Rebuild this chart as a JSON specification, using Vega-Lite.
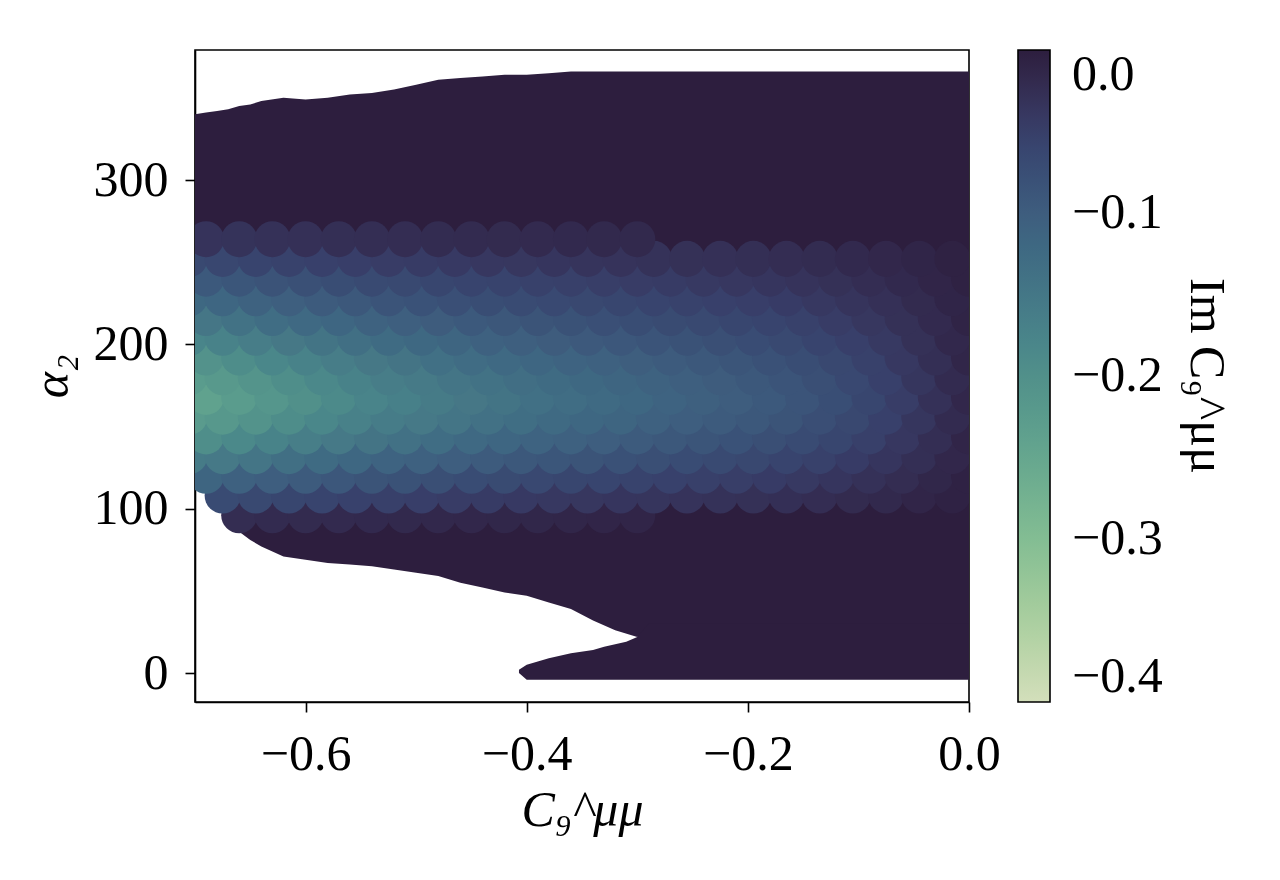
{
  "$schema": "https://vega.github.io/schema/vega-lite/v6.json",
  "autosize": "none",
  "width": 774,
  "height": 652,
  "padding": {"left": 195, "top": 50, "right": 311, "bottom": 178},
  "background": "white",
  "config": {
    "view": {"stroke": "black", "strokeWidth": 1.6},
    "axis": {
      "labelFont": "Liberation Serif", "labelFontSize": 50, "labelColor": "black",
      "titleFont": "Liberation Serif", "titleFontSize": 50, "titleFontWeight": "normal",
      "titleColor": "black", "titleFontStyle": "italic",
      "tickColor": "black", "tickSize": 10, "tickWidth": 1.6,
      "domainColor": "black", "domainWidth": 1.6, "grid": false, "labelPadding": 17
    }
  },
  "datasets": {
    "env": [
      {"part": "main", "x": -0.7, "lo": 124, "hi": 340},
      {"part": "main", "x": -0.69, "lo": 112, "hi": 341},
      {"part": "main", "x": -0.68, "lo": 101, "hi": 342},
      {"part": "main", "x": -0.67, "lo": 93, "hi": 343},
      {"part": "main", "x": -0.66, "lo": 86, "hi": 345},
      {"part": "main", "x": -0.65, "lo": 81, "hi": 346},
      {"part": "main", "x": -0.64, "lo": 77, "hi": 348},
      {"part": "main", "x": -0.62, "lo": 71, "hi": 350},
      {"part": "main", "x": -0.6, "lo": 69, "hi": 349},
      {"part": "main", "x": -0.58, "lo": 67, "hi": 350},
      {"part": "main", "x": -0.56, "lo": 66, "hi": 352},
      {"part": "main", "x": -0.54, "lo": 65, "hi": 353},
      {"part": "main", "x": -0.52, "lo": 63, "hi": 355},
      {"part": "main", "x": -0.5, "lo": 61, "hi": 358},
      {"part": "main", "x": -0.48, "lo": 59, "hi": 361},
      {"part": "main", "x": -0.46, "lo": 55, "hi": 362},
      {"part": "main", "x": -0.44, "lo": 52, "hi": 363},
      {"part": "main", "x": -0.42, "lo": 49, "hi": 364},
      {"part": "main", "x": -0.4, "lo": 47, "hi": 364},
      {"part": "main", "x": -0.38, "lo": 43, "hi": 365},
      {"part": "main", "x": -0.36, "lo": 39, "hi": 366},
      {"part": "main", "x": -0.34, "lo": 32, "hi": 366},
      {"part": "main", "x": -0.32, "lo": 26, "hi": 366},
      {"part": "main", "x": -0.3, "lo": 22, "hi": 366},
      {"part": "main", "x": -0.29, "lo": 25, "hi": 366},
      {"part": "main", "x": 0, "lo": 25, "hi": 366},
      {"part": "lobe", "x": -0.407, "lo": 0, "hi": 2},
      {"part": "lobe", "x": -0.4, "lo": -4, "hi": 5},
      {"part": "lobe", "x": -0.39, "lo": -4, "hi": 7},
      {"part": "lobe", "x": -0.38, "lo": -4, "hi": 9},
      {"part": "lobe", "x": -0.36, "lo": -4, "hi": 12},
      {"part": "lobe", "x": -0.34, "lo": -4, "hi": 14},
      {"part": "lobe", "x": -0.33, "lo": -4, "hi": 16},
      {"part": "lobe", "x": -0.31, "lo": -4, "hi": 19},
      {"part": "lobe", "x": -0.3, "lo": -4, "hi": 22},
      {"part": "lobe", "x": -0.29, "lo": -4, "hi": 30},
      {"part": "lobe", "x": 0, "lo": -4, "hi": 30}
    ],
    "pts": [
      {"x":-0.66,"y":96,"c":-0.023},{"x":-0.63,"y":96,"c":-0.021},{"x":-0.6,"y":96,"c":-0.02},{"x":-0.57,"y":96,"c":-0.019},{"x":-0.54,"y":96,"c":-0.018},{"x":-0.51,"y":96,"c":-0.017},{"x":-0.48,"y":96,"c":-0.016},{"x":-0.45,"y":96,"c":-0.015},{"x":-0.42,"y":96,"c":-0.014},{"x":-0.39,"y":96,"c":-0.014},{"x":-0.36,"y":96,"c":-0.013},{"x":-0.33,"y":96,"c":-0.012},{"x":-0.3,"y":96,"c":-0.012},
      {"x":-0.675,"y":108,"c":-0.07},{"x":-0.645,"y":108,"c":-0.066},{"x":-0.615,"y":108,"c":-0.062},{"x":-0.585,"y":108,"c":-0.058},{"x":-0.555,"y":108,"c":-0.054},{"x":-0.525,"y":108,"c":-0.051},{"x":-0.495,"y":108,"c":-0.049},{"x":-0.465,"y":108,"c":-0.046},{"x":-0.435,"y":108,"c":-0.044},{"x":-0.405,"y":108,"c":-0.042},{"x":-0.375,"y":108,"c":-0.04},{"x":-0.345,"y":108,"c":-0.038},{"x":-0.315,"y":108,"c":-0.036},{"x":-0.285,"y":108,"c":-0.035},{"x":-0.255,"y":108,"c":-0.033},{"x":-0.225,"y":108,"c":-0.031},{"x":-0.195,"y":108,"c":-0.029},{"x":-0.165,"y":108,"c":-0.027},{"x":-0.135,"y":108,"c":-0.024},{"x":-0.105,"y":108,"c":-0.02},{"x":-0.075,"y":108,"c":-0.017},{"x":-0.045,"y":108,"c":-0.012},{"x":-0.015,"y":108,"c":-0.007},
      {"x":-0.69,"y":120,"c":-0.114},{"x":-0.66,"y":120,"c":-0.108},{"x":-0.63,"y":120,"c":-0.102},{"x":-0.6,"y":120,"c":-0.096},{"x":-0.57,"y":120,"c":-0.09},{"x":-0.54,"y":120,"c":-0.084},{"x":-0.51,"y":120,"c":-0.081},{"x":-0.48,"y":120,"c":-0.076},{"x":-0.45,"y":120,"c":-0.072},{"x":-0.42,"y":120,"c":-0.069},{"x":-0.39,"y":120,"c":-0.065},{"x":-0.36,"y":120,"c":-0.062},{"x":-0.33,"y":120,"c":-0.06},{"x":-0.3,"y":120,"c":-0.057},{"x":-0.27,"y":120,"c":-0.054},{"x":-0.24,"y":120,"c":-0.051},{"x":-0.21,"y":120,"c":-0.048},{"x":-0.18,"y":120,"c":-0.045},{"x":-0.15,"y":120,"c":-0.041},{"x":-0.12,"y":120,"c":-0.036},{"x":-0.09,"y":120,"c":-0.03},{"x":-0.06,"y":120,"c":-0.023},{"x":-0.03,"y":120,"c":-0.014},{"x":0,"y":120,"c":-0.007},
      {"x":-0.705,"y":132,"c":-0.158},{"x":-0.675,"y":132,"c":-0.153},{"x":-0.645,"y":132,"c":-0.145},{"x":-0.615,"y":132,"c":-0.135},{"x":-0.585,"y":132,"c":-0.127},{"x":-0.555,"y":132,"c":-0.119},{"x":-0.525,"y":132,"c":-0.112},{"x":-0.495,"y":132,"c":-0.108},{"x":-0.465,"y":132,"c":-0.102},{"x":-0.435,"y":132,"c":-0.096},{"x":-0.405,"y":132,"c":-0.092},{"x":-0.375,"y":132,"c":-0.088},{"x":-0.345,"y":132,"c":-0.084},{"x":-0.315,"y":132,"c":-0.08},{"x":-0.285,"y":132,"c":-0.076},{"x":-0.255,"y":132,"c":-0.072},{"x":-0.225,"y":132,"c":-0.068},{"x":-0.195,"y":132,"c":-0.064},{"x":-0.165,"y":132,"c":-0.059},{"x":-0.135,"y":132,"c":-0.053},{"x":-0.105,"y":132,"c":-0.045},{"x":-0.075,"y":132,"c":-0.036},{"x":-0.045,"y":132,"c":-0.026},{"x":-0.015,"y":132,"c":-0.015},
      {"x":-0.69,"y":144,"c":-0.195},{"x":-0.66,"y":144,"c":-0.185},{"x":-0.63,"y":144,"c":-0.174},{"x":-0.6,"y":144,"c":-0.163},{"x":-0.57,"y":144,"c":-0.153},{"x":-0.54,"y":144,"c":-0.144},{"x":-0.51,"y":144,"c":-0.138},{"x":-0.48,"y":144,"c":-0.13},{"x":-0.45,"y":144,"c":-0.123},{"x":-0.42,"y":144,"c":-0.117},{"x":-0.39,"y":144,"c":-0.112},{"x":-0.36,"y":144,"c":-0.107},{"x":-0.33,"y":144,"c":-0.102},{"x":-0.3,"y":144,"c":-0.097},{"x":-0.27,"y":144,"c":-0.092},{"x":-0.24,"y":144,"c":-0.087},{"x":-0.21,"y":144,"c":-0.082},{"x":-0.18,"y":144,"c":-0.076},{"x":-0.15,"y":144,"c":-0.07},{"x":-0.12,"y":144,"c":-0.061},{"x":-0.09,"y":144,"c":-0.051},{"x":-0.06,"y":144,"c":-0.039},{"x":-0.03,"y":144,"c":-0.025},{"x":0,"y":144,"c":-0.012},
      {"x":-0.705,"y":156,"c":-0.224},{"x":-0.675,"y":156,"c":-0.218},{"x":-0.645,"y":156,"c":-0.206},{"x":-0.615,"y":156,"c":-0.193},{"x":-0.585,"y":156,"c":-0.181},{"x":-0.555,"y":156,"c":-0.17},{"x":-0.525,"y":156,"c":-0.16},{"x":-0.495,"y":156,"c":-0.153},{"x":-0.465,"y":156,"c":-0.145},{"x":-0.435,"y":156,"c":-0.137},{"x":-0.405,"y":156,"c":-0.132},{"x":-0.375,"y":156,"c":-0.125},{"x":-0.345,"y":156,"c":-0.119},{"x":-0.315,"y":156,"c":-0.114},{"x":-0.285,"y":156,"c":-0.108},{"x":-0.255,"y":156,"c":-0.102},{"x":-0.225,"y":156,"c":-0.097},{"x":-0.195,"y":156,"c":-0.091},{"x":-0.165,"y":156,"c":-0.084},{"x":-0.135,"y":156,"c":-0.075},{"x":-0.105,"y":156,"c":-0.064},{"x":-0.075,"y":156,"c":-0.052},{"x":-0.045,"y":156,"c":-0.037},{"x":-0.015,"y":156,"c":-0.021},
      {"x":-0.69,"y":168,"c":-0.238},{"x":-0.66,"y":168,"c":-0.226},{"x":-0.63,"y":168,"c":-0.212},{"x":-0.6,"y":168,"c":-0.199},{"x":-0.57,"y":168,"c":-0.187},{"x":-0.54,"y":168,"c":-0.175},{"x":-0.51,"y":168,"c":-0.168},{"x":-0.48,"y":168,"c":-0.158},{"x":-0.45,"y":168,"c":-0.15},{"x":-0.42,"y":168,"c":-0.143},{"x":-0.39,"y":168,"c":-0.136},{"x":-0.36,"y":168,"c":-0.13},{"x":-0.33,"y":168,"c":-0.124},{"x":-0.3,"y":168,"c":-0.118},{"x":-0.27,"y":168,"c":-0.112},{"x":-0.24,"y":168,"c":-0.106},{"x":-0.21,"y":168,"c":-0.1},{"x":-0.18,"y":168,"c":-0.093},{"x":-0.15,"y":168,"c":-0.085},{"x":-0.12,"y":168,"c":-0.074},{"x":-0.09,"y":168,"c":-0.062},{"x":-0.06,"y":168,"c":-0.047},{"x":-0.03,"y":168,"c":-0.03},{"x":0,"y":168,"c":-0.015},
      {"x":-0.705,"y":180,"c":-0.226},{"x":-0.675,"y":180,"c":-0.22},{"x":-0.645,"y":180,"c":-0.208},{"x":-0.615,"y":180,"c":-0.195},{"x":-0.585,"y":180,"c":-0.183},{"x":-0.555,"y":180,"c":-0.172},{"x":-0.525,"y":180,"c":-0.162},{"x":-0.495,"y":180,"c":-0.155},{"x":-0.465,"y":180,"c":-0.146},{"x":-0.435,"y":180,"c":-0.139},{"x":-0.405,"y":180,"c":-0.133},{"x":-0.375,"y":180,"c":-0.126},{"x":-0.345,"y":180,"c":-0.121},{"x":-0.315,"y":180,"c":-0.115},{"x":-0.285,"y":180,"c":-0.109},{"x":-0.255,"y":180,"c":-0.104},{"x":-0.225,"y":180,"c":-0.098},{"x":-0.195,"y":180,"c":-0.092},{"x":-0.165,"y":180,"c":-0.085},{"x":-0.135,"y":180,"c":-0.076},{"x":-0.105,"y":180,"c":-0.065},{"x":-0.075,"y":180,"c":-0.052},{"x":-0.045,"y":180,"c":-0.037},{"x":-0.015,"y":180,"c":-0.021},
      {"x":-0.69,"y":192,"c":-0.205},{"x":-0.66,"y":192,"c":-0.194},{"x":-0.63,"y":192,"c":-0.182},{"x":-0.6,"y":192,"c":-0.171},{"x":-0.57,"y":192,"c":-0.161},{"x":-0.54,"y":192,"c":-0.151},{"x":-0.51,"y":192,"c":-0.144},{"x":-0.48,"y":192,"c":-0.136},{"x":-0.45,"y":192,"c":-0.129},{"x":-0.42,"y":192,"c":-0.123},{"x":-0.39,"y":192,"c":-0.117},{"x":-0.36,"y":192,"c":-0.112},{"x":-0.33,"y":192,"c":-0.107},{"x":-0.3,"y":192,"c":-0.101},{"x":-0.27,"y":192,"c":-0.096},{"x":-0.24,"y":192,"c":-0.091},{"x":-0.21,"y":192,"c":-0.086},{"x":-0.18,"y":192,"c":-0.08},{"x":-0.15,"y":192,"c":-0.073},{"x":-0.12,"y":192,"c":-0.064},{"x":-0.09,"y":192,"c":-0.053},{"x":-0.06,"y":192,"c":-0.04},{"x":-0.03,"y":192,"c":-0.026},{"x":0,"y":192,"c":-0.013},
      {"x":-0.705,"y":204,"c":-0.177},{"x":-0.675,"y":204,"c":-0.172},{"x":-0.645,"y":204,"c":-0.162},{"x":-0.615,"y":204,"c":-0.152},{"x":-0.585,"y":204,"c":-0.143},{"x":-0.555,"y":204,"c":-0.134},{"x":-0.525,"y":204,"c":-0.126},{"x":-0.495,"y":204,"c":-0.121},{"x":-0.465,"y":204,"c":-0.114},{"x":-0.435,"y":204,"c":-0.108},{"x":-0.405,"y":204,"c":-0.104},{"x":-0.375,"y":204,"c":-0.098},{"x":-0.345,"y":204,"c":-0.094},{"x":-0.315,"y":204,"c":-0.09},{"x":-0.285,"y":204,"c":-0.085},{"x":-0.255,"y":204,"c":-0.081},{"x":-0.225,"y":204,"c":-0.076},{"x":-0.195,"y":204,"c":-0.072},{"x":-0.165,"y":204,"c":-0.066},{"x":-0.135,"y":204,"c":-0.059},{"x":-0.105,"y":204,"c":-0.05},{"x":-0.075,"y":204,"c":-0.041},{"x":-0.045,"y":204,"c":-0.029},{"x":-0.015,"y":204,"c":-0.016},
      {"x":-0.69,"y":216,"c":-0.148},{"x":-0.66,"y":216,"c":-0.14},{"x":-0.63,"y":216,"c":-0.131},{"x":-0.6,"y":216,"c":-0.123},{"x":-0.57,"y":216,"c":-0.116},{"x":-0.54,"y":216,"c":-0.109},{"x":-0.51,"y":216,"c":-0.104},{"x":-0.48,"y":216,"c":-0.098},{"x":-0.45,"y":216,"c":-0.093},{"x":-0.42,"y":216,"c":-0.089},{"x":-0.39,"y":216,"c":-0.084},{"x":-0.36,"y":216,"c":-0.081},{"x":-0.33,"y":216,"c":-0.077},{"x":-0.3,"y":216,"c":-0.073},{"x":-0.27,"y":216,"c":-0.069},{"x":-0.24,"y":216,"c":-0.066},{"x":-0.21,"y":216,"c":-0.062},{"x":-0.18,"y":216,"c":-0.058},{"x":-0.15,"y":216,"c":-0.053},{"x":-0.12,"y":216,"c":-0.046},{"x":-0.09,"y":216,"c":-0.038},{"x":-0.06,"y":216,"c":-0.029},{"x":-0.03,"y":216,"c":-0.019},{"x":0,"y":216,"c":-0.009},
      {"x":-0.705,"y":228,"c":-0.12},{"x":-0.675,"y":228,"c":-0.116},{"x":-0.645,"y":228,"c":-0.11},{"x":-0.615,"y":228,"c":-0.103},{"x":-0.585,"y":228,"c":-0.097},{"x":-0.555,"y":228,"c":-0.091},{"x":-0.525,"y":228,"c":-0.085},{"x":-0.495,"y":228,"c":-0.082},{"x":-0.465,"y":228,"c":-0.077},{"x":-0.435,"y":228,"c":-0.073},{"x":-0.405,"y":228,"c":-0.07},{"x":-0.375,"y":228,"c":-0.067},{"x":-0.345,"y":228,"c":-0.064},{"x":-0.315,"y":228,"c":-0.061},{"x":-0.285,"y":228,"c":-0.058},{"x":-0.255,"y":228,"c":-0.055},{"x":-0.225,"y":228,"c":-0.052},{"x":-0.195,"y":228,"c":-0.049},{"x":-0.165,"y":228,"c":-0.045},{"x":-0.135,"y":228,"c":-0.04},{"x":-0.105,"y":228,"c":-0.034},{"x":-0.075,"y":228,"c":-0.028},{"x":-0.045,"y":228,"c":-0.02},{"x":-0.015,"y":228,"c":-0.011},
      {"x":-0.69,"y":240,"c":-0.093},{"x":-0.66,"y":240,"c":-0.088},{"x":-0.63,"y":240,"c":-0.083},{"x":-0.6,"y":240,"c":-0.078},{"x":-0.57,"y":240,"c":-0.073},{"x":-0.54,"y":240,"c":-0.068},{"x":-0.51,"y":240,"c":-0.066},{"x":-0.48,"y":240,"c":-0.062},{"x":-0.45,"y":240,"c":-0.059},{"x":-0.42,"y":240,"c":-0.056},{"x":-0.39,"y":240,"c":-0.053},{"x":-0.36,"y":240,"c":-0.051},{"x":-0.33,"y":240,"c":-0.048},{"x":-0.3,"y":240,"c":-0.046},{"x":-0.27,"y":240,"c":-0.044},{"x":-0.24,"y":240,"c":-0.041},{"x":-0.21,"y":240,"c":-0.039},{"x":-0.18,"y":240,"c":-0.036},{"x":-0.15,"y":240,"c":-0.033},{"x":-0.12,"y":240,"c":-0.029},{"x":-0.09,"y":240,"c":-0.024},{"x":-0.06,"y":240,"c":-0.018},{"x":-0.03,"y":240,"c":-0.012},{"x":0,"y":240,"c":-0.006},
      {"x":-0.705,"y":252,"c":-0.066},{"x":-0.675,"y":252,"c":-0.063},{"x":-0.645,"y":252,"c":-0.059},{"x":-0.615,"y":252,"c":-0.055},{"x":-0.585,"y":252,"c":-0.052},{"x":-0.555,"y":252,"c":-0.049},{"x":-0.525,"y":252,"c":-0.046},{"x":-0.495,"y":252,"c":-0.044},{"x":-0.465,"y":252,"c":-0.042},{"x":-0.435,"y":252,"c":-0.039},{"x":-0.405,"y":252,"c":-0.038},{"x":-0.375,"y":252,"c":-0.036},{"x":-0.345,"y":252,"c":-0.034},{"x":-0.315,"y":252,"c":-0.033},{"x":-0.285,"y":252,"c":-0.031},{"x":-0.255,"y":252,"c":-0.029},{"x":-0.225,"y":252,"c":-0.028},{"x":-0.195,"y":252,"c":-0.026},{"x":-0.165,"y":252,"c":-0.024},{"x":-0.135,"y":252,"c":-0.022},{"x":-0.105,"y":252,"c":-0.018},{"x":-0.075,"y":252,"c":-0.015},{"x":-0.045,"y":252,"c":-0.011},{"x":-0.015,"y":252,"c":-0.006},
      {"x":-0.69,"y":264,"c":-0.033},{"x":-0.66,"y":264,"c":-0.032},{"x":-0.63,"y":264,"c":-0.03},{"x":-0.6,"y":264,"c":-0.028},{"x":-0.57,"y":264,"c":-0.026},{"x":-0.54,"y":264,"c":-0.025},{"x":-0.51,"y":264,"c":-0.024},{"x":-0.48,"y":264,"c":-0.022},{"x":-0.45,"y":264,"c":-0.021},{"x":-0.42,"y":264,"c":-0.02},{"x":-0.39,"y":264,"c":-0.019},{"x":-0.36,"y":264,"c":-0.018},{"x":-0.33,"y":264,"c":-0.017},{"x":-0.3,"y":264,"c":-0.017}
    ]
  },
  "layer": [
    {
      "data": {"name": "env"},
      "mark": {"type": "area", "color": "#2d1e3e", "clip": true, "interpolate": "linear"},
      "encoding": {
        "x": {"field": "x", "type": "quantitative", "scale": {"domain": [-0.7, 0], "nice": false, "zero": false},
          "axis": {"values": [-0.6, -0.4, -0.2, 0], "format": ".1f", "labelFlush": false, "labelOverlap": false,
            "title": "C₉^μμ", "titlePadding": 6}},
        "y": {"field": "lo", "type": "quantitative", "scale": {"domain": [-17.6, 379.1], "nice": false, "zero": false},
          "axis": {"values": [0, 100, 200, 300], "format": "d", "labelOverlap": false, "title": "α₂", "titlePadding": 16}},
        "y2": {"field": "hi"},
        "detail": {"field": "part", "type": "nominal"}
      }
    },
    {
      "data": {"name": "pts"},
      "mark": {"type": "circle", "size": 1300, "opacity": 1, "clip": true},
      "encoding": {
        "x": {"field": "x", "type": "quantitative"},
        "y": {"field": "y", "type": "quantitative"},
        "color": {
          "field": "c", "type": "quantitative",
          "scale": {
            "domain": [-0.4, -0.35, -0.3, -0.25, -0.2, -0.15, -0.1, -0.05, 0],
            "range": ["#d3dfbb", "#a9cf9f", "#83bd93", "#66a78e", "#51908a", "#467786", "#3e5d7e", "#383f6a", "#2d1e3e"]
          },
          "legend": {
            "orient": "none", "legendX": 823, "legendY": 0, "direction": "vertical", "padding": 0,
            "gradientLength": 652, "gradientThickness": 32,
            "gradientStrokeColor": "black", "gradientStrokeWidth": 1.6,
            "values": [-0.4, -0.3, -0.2, -0.1, 0], "format": ".1f",
            "labelFont": "Liberation Serif", "labelFontSize": 50, "labelColor": "black", "labelOffset": 22,
            "title": "Im C₉^μμ", "titleOrient": "right", "titleAnchor": "middle", "titleLimit": 600,
            "titleFont": "Liberation Serif", "titleFontSize": 50, "titleFontWeight": "normal", "titleColor": "black",
            "titlePadding": 18,
            "encode": {
              "title": {"update": {"angle": {"value": -90}}},
              "labels": {
                "enter": {"baseline": {"value": "middle"}},
                "update": {"baseline": {"value": "middle"}}
              }
            }
          }
        }
      }
    }
  ]
}
